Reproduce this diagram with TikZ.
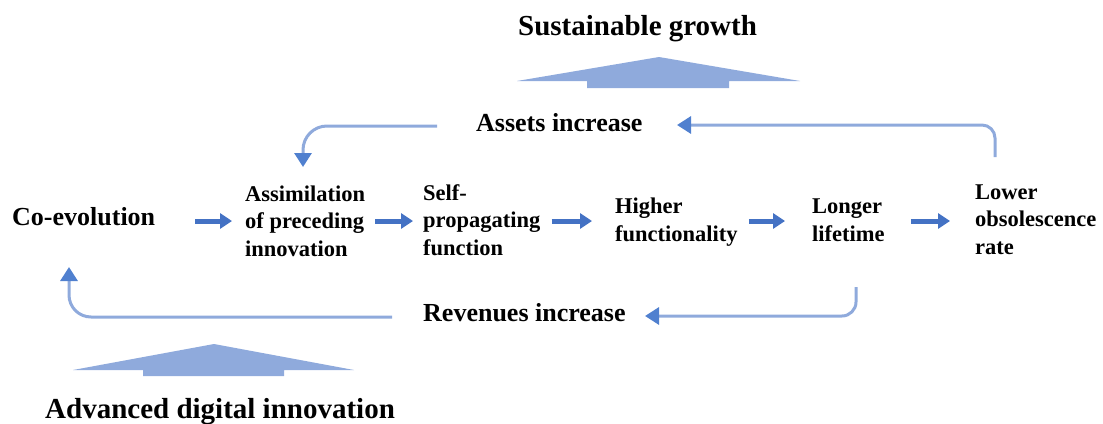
\documentclass[tikz,border=0pt]{standalone}
\usepackage{fontspec}
\setmainfont{Liberation Serif}
\usetikzlibrary{arrows.meta}
\definecolor{lightblue}{HTML}{8FAADC}
\definecolor{mainblue}{HTML}{4472C4}
\definecolor{tipblue}{HTML}{5080CF}
\tikzset{
  head/.style={font=\fontsize{29}{34}\selectfont\bfseries, inner sep=0pt, anchor=base west},
  midlabel/.style={font=\fontsize{26}{30}\selectfont\bfseries, inner sep=0pt, anchor=base west},
  rowlabel/.style={font=\fontsize{22.5}{27.5}\selectfont\bfseries, inner sep=0pt, anchor=base west, align=left},
  mainarr/.style={draw=mainblue, line width=5pt, -{Triangle[length=12pt,width=15pt]}},
  fb/.style={draw=lightblue, line width=3pt, -{Triangle[length=14pt,width=17pt,color=tipblue]}},
  bigarrow/.style={fill=lightblue, draw=none}
}
\begin{document}
\begin{tikzpicture}[x=1pt,y=-1pt]
\useasboundingbox (0,0) rectangle (1103,423);
% headlines
\node[head] (sust) at (518,35) {Sustainable growth};
\node[head] (adv) at (45,418) {Advanced digital innovation};
% big arrows
\fill[bigarrow] (517,81) -- (659,57) -- (800,81) -- (729,81) -- (729,88) -- (587,88) -- (587,81) -- cycle;
\fill[bigarrow] (73,370) -- (214,344) -- (354,370) -- (284,370) -- (284,376) -- (143,376) -- (143,370) -- cycle;
% mid labels
\node[midlabel] (assets) at (476,131) {Assets increase};
\node[midlabel] (coevo) at (12,225) {Co-evolution};
\node[midlabel] (rev) at (423,321) {Revenues increase};
% row labels (base anchor = baseline of the last line)
\node[rowlabel] (assim) at (245,256) {Assimilation\\of preceding\\innovation};
\node[rowlabel] (self) at (423,255) {Self-\\propagating\\function};
\node[rowlabel] (higher) at (615,241) {Higher\\functionality};
\node[rowlabel] (longer) at (812,241) {Longer\\lifetime};
\node[rowlabel] (lower) at (975,254) {Lower\\obsolescence\\rate};
% main arrows
\coordinate (row) at (0,221);
\draw[mainarr, shorten <=40pt, shorten >=13pt] (coevo.east |- row) -- (assim.west |- row);
\draw[mainarr, shorten <=10pt, shorten >=10pt] (assim.east |- row) -- (self.west |- row);
\draw[mainarr, shorten <=11pt, shorten >=23pt] (self.east |- row) -- (higher.west |- row);
\draw[mainarr, shorten <=11pt, shorten >=27pt] (higher.east |- row) -- (longer.west |- row);
\draw[mainarr, shorten <=26pt, shorten >=25pt] (longer.east |- row) -- (lower.west |- row);
% feedback arrows
\coordinate (fbTRs) at (995,157);
\coordinate (fbTRe) at (677,125);
\coordinate (fbTLs) at (437,126);
\coordinate (fbTLe) at (303,167);
\coordinate (fbBRs) at (856,287);
\coordinate (fbBRe) at (645,316);
\coordinate (fbBLs) at (392,317);
\coordinate (fbBLe) at (69,267);
\draw[fb, rounded corners=13pt] (fbTRs) |- (fbTRe);
\draw[fb, rounded corners=24pt] (fbTLs) -| (fbTLe);
\draw[fb, rounded corners=14pt] (fbBRs) |- (fbBRe);
\draw[fb, rounded corners=22pt] (fbBLs) -| (fbBLe);
\end{tikzpicture}
\end{document}
